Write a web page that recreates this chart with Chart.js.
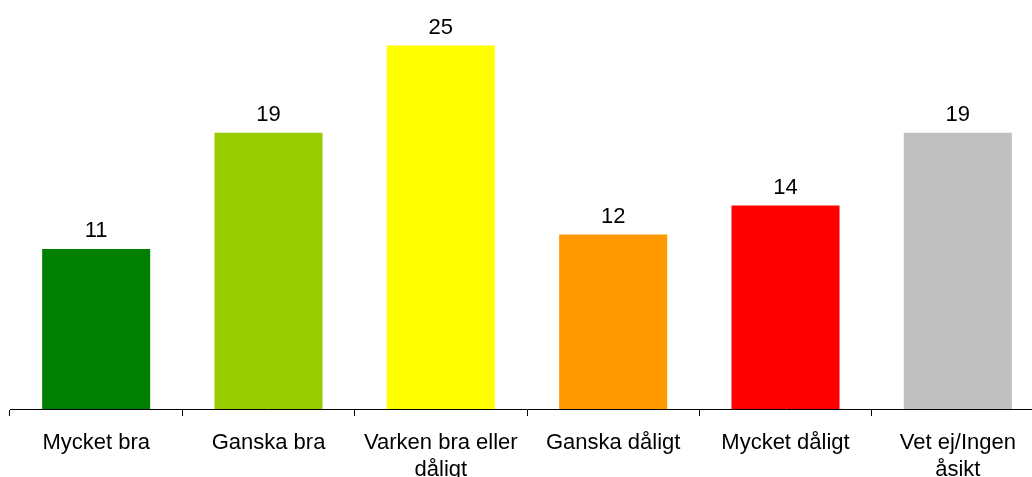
<!DOCTYPE html>
<html>
<head>
<meta charset="utf-8">
<script src="https://cdn.jsdelivr.net/npm/chart.js@4/dist/chart.umd.min.js"></script>
<style>
  html, body { margin: 0; padding: 0; overflow: hidden; background: #fff; }
  #wrap { width: 1044px; height: 477px; }
</style>
</head>
<body>
<div id="wrap"><canvas id="c" width="1044" height="477"></canvas></div>
<script>
const categories = [
  "Mycket bra",
  "Ganska bra",
  ["Varken bra eller", "dåligt"],
  "Ganska dåligt",
  "Mycket dåligt",
  ["Vet ej/Ingen", "åsikt"]
];
const values = [11, 19, 25, 12, 14, 19];
const barColors = ["#008000", "#99CC00", "#FFFF00", "#FF9900", "#FF0000", "#C0C0C0"];

const FONT = "'Liberation Sans', Arial, sans-serif";

const valueLabels = {
  id: 'valueLabels',
  afterDatasetsDraw(chart) {
    const ctx = chart.ctx;
    const meta = chart.getDatasetMeta(0);
    ctx.save();
    ctx.font = "22px " + FONT;
    ctx.fillStyle = "#000";
    ctx.textAlign = "center";
    ctx.textBaseline = "alphabetic";
    meta.data.forEach((bar, i) => {
      ctx.fillText(String(values[i]), bar.x, bar.y - 12);
    });
    ctx.restore();
  }
};

new Chart(document.getElementById('c'), {
  type: 'bar',
  data: {
    labels: categories,
    datasets: [{
      data: values,
      backgroundColor: barColors,
      borderWidth: 0,
      barPercentage: 0.627,
      categoryPercentage: 1.0
    }]
  },
  options: {
    responsive: false,
    animation: false,
    layout: { padding: { left: 10, right: 0, top: 2, bottom: 0 } },
    plugins: { legend: { display: false }, tooltip: { enabled: false } },
    scales: {
      y: { display: false, min: 0, max: 28 },
      x: {
        afterFit(s) { s.height = 68; },
        border: { display: true, color: "#000", width: 1 },
        grid: { drawOnChartArea: false, drawTicks: true, tickLength: 7, color: "#000", offset: true },
        ticks: { color: "#000", padding: 14, maxRotation: 0, autoSkip: false,
          font: { family: FONT, size: 22, lineHeight: 1.2 } }
      }
    }
  },
  plugins: [valueLabels]
});
</script>
</body>
</html>
